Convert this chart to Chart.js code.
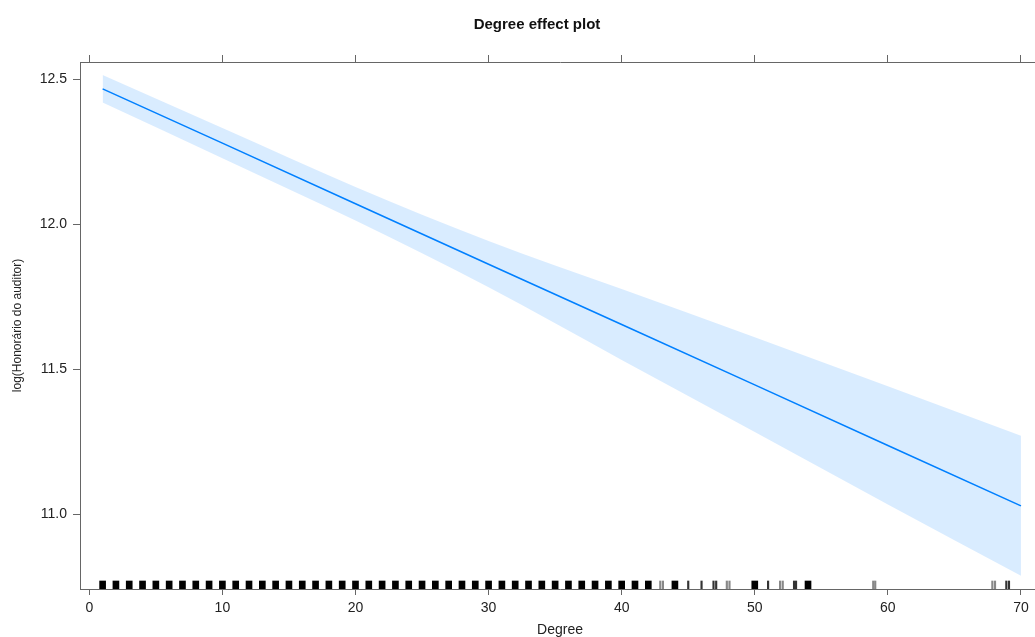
<!DOCTYPE html>
<html>
<head>
<meta charset="utf-8">
<script src="https://cdn.jsdelivr.net/npm/chart.js@4"></script>
<style>
  html, body { margin: 0; padding: 0; background: #ffffff; overflow: hidden; }
  #wrap { width: 1045px; height: 637px; }
</style>
</head>
<body>
<div id="wrap"><canvas id="c" width="1045" height="637"></canvas></div>
<script>
// ---- data ----
const degreeGrid = [1, 10, 20, 30, 40, 50, 60, 70];
const fitValues   = [12.466, 12.279, 12.070, 11.862, 11.654, 11.446, 11.237, 11.029];
const upperValues = [12.514, 12.331, 12.128, 11.942, 11.776, 11.610, 11.441, 11.271];
const lowerValues = [12.419, 12.227, 12.012, 11.782, 11.532, 11.284, 11.034, 10.788];

const xTicks = [0, 10, 20, 30, 40, 50, 60, 70];
const yTicks = [11.0, 11.5, 12.0, 12.5];

// rug: observed Degree values (dense clusters and isolated observations)
const rugBlocks = [1,2,3,4,5,6,7,8,9,10,11,12,13,14,15,16,17,18,19,20,21,22,23,24,25,26,27,28,29,30,31,32,33,34,35,36,37,38,39,40,41,42,44,50,54];
const rugLinesDark = [45, 46, 46.9, 47.1, 51, 52.95, 53.1, 68.9, 69.1];
const rugLinesGrey = [42.9, 43.1, 47.9, 48.1, 51.9, 52.1, 58.9, 59.05, 67.85, 68.05];

const titleText = 'Degree effect plot';
const xTitle = 'Degree';
const yTitle = 'log(Honorário do auditor)';

// ---- layout / styles ----
const X_MIN = -0.699, X_MAX = 71.43;
const Y_MIN = 10.7426, Y_MAX = 12.5586;
const RUG_H = 0.0276;
const FONT = "'Liberation Sans', Arial, Helvetica, sans-serif";
const AXIS_COLOR = '#666666';
const LINE_COLOR = 'rgb(0,128,255)';
const BAND_COLOR = 'rgba(0,128,255,0.15)';

const toPts = (xs, ys) => xs.map((x, i) => ({ x: x, y: ys[i] }));
const toRug = xs => xs.map(x => ({ x: x, y: [Y_MIN, Y_MIN + RUG_H] }));

const titlePlugin = {
  id: 'plotTitle',
  afterDraw(chart) {
    const ctx = chart.ctx;
    ctx.save();
    ctx.font = 'bold 15px ' + FONT;
    ctx.fillStyle = '#111111';
    ctx.textAlign = 'center';
    ctx.textBaseline = 'middle';
    ctx.fillText(titleText, 537, 25);
    ctx.restore();
  }
};

const gridOpts = len => ({ display: true, offset: false, drawOnChartArea: false, drawTicks: true,
                           tickLength: len, color: AXIS_COLOR, lineWidth: 1 });

new Chart(document.getElementById('c'), {
  type: 'line',
  data: {
    datasets: [
      { label: 'lower', data: toPts(degreeGrid, lowerValues), borderWidth: 0, borderColor: 'rgba(0,0,0,0)',
        pointRadius: 0, fill: false, cubicInterpolationMode: 'monotone', order: 5 },
      { label: 'upper', data: toPts(degreeGrid, upperValues), borderWidth: 0, borderColor: 'rgba(0,0,0,0)',
        backgroundColor: BAND_COLOR, pointRadius: 0, fill: '-1', cubicInterpolationMode: 'monotone', order: 4 },
      { label: 'fit', data: toPts(degreeGrid, fitValues), borderWidth: 1.6, borderColor: LINE_COLOR,
        pointRadius: 0, fill: false, tension: 0, order: 1 },
      { type: 'bar', label: 'rugBlocks', data: toRug(rugBlocks), backgroundColor: '#000000',
        barThickness: 6, grouped: false, order: 2 },
      { type: 'bar', label: 'rugDark', data: toRug(rugLinesDark), backgroundColor: '#333333',
        barThickness: 1.5, grouped: false, order: 2 },
      { type: 'bar', label: 'rugGrey', data: toRug(rugLinesGrey), backgroundColor: '#888888',
        barThickness: 1.5, grouped: false, order: 2 }
    ]
  },
  options: {
    responsive: false,
    animation: false,
    devicePixelRatio: 1,
    layout: { padding: { left: 0, right: 5, top: 0, bottom: 0 } },
    plugins: { legend: { display: false }, tooltip: { enabled: false }, title: { display: false } },
    scales: {
      x: {
        type: 'linear', position: 'bottom', min: X_MIN, max: X_MAX, offset: false,
        afterBuildTicks: s => { s.ticks = xTicks.map(v => ({ value: v })); },
        afterFit: s => { s.height = 48; },
        grid: gridOpts(6),
        border: { display: true, color: AXIS_COLOR, width: 1 },
        ticks: { color: '#222222', font: { family: FONT, size: 14 }, padding: 5, maxRotation: 0 },
        title: { display: true, text: xTitle, color: '#222222', font: { family: FONT, size: 14, lineHeight: 1.0 },
                 padding: { top: 0, bottom: 0 } }
      },
      xTop: {
        type: 'linear', position: 'top', min: X_MIN, max: X_MAX, offset: false,
        afterBuildTicks: s => { s.ticks = xTicks.map(v => ({ value: v })); },
        afterFit: s => { s.height = 62; },
        grid: gridOpts(7),
        border: { display: true, color: AXIS_COLOR, width: 1 },
        ticks: { callback: () => '', padding: 0 }
      },
      y: {
        type: 'linear', position: 'left', min: Y_MIN, max: Y_MAX,
        afterBuildTicks: s => { s.ticks = yTicks.map(v => ({ value: v })); },
        afterFit: s => { s.width = 80; },
        grid: gridOpts(7),
        border: { display: true, color: AXIS_COLOR, width: 1 },
        ticks: { color: '#222222', font: { family: FONT, size: 14 }, padding: 6,
                 callback: v => Number(v).toFixed(1) },
        title: { display: true, text: yTitle, color: '#222222', font: { family: FONT, size: 12 },
                 padding: { top: 10, bottom: 0 } }
      },
      yRight: {
        type: 'linear', position: 'right', min: Y_MIN, max: Y_MAX,
        afterFit: s => { s.width = 0; },
        grid: { display: false },
        border: { display: true, color: AXIS_COLOR, width: 1 },
        ticks: { display: false }
      }
    }
  },
  plugins: [titlePlugin]
});
</script>
</body>
</html>
